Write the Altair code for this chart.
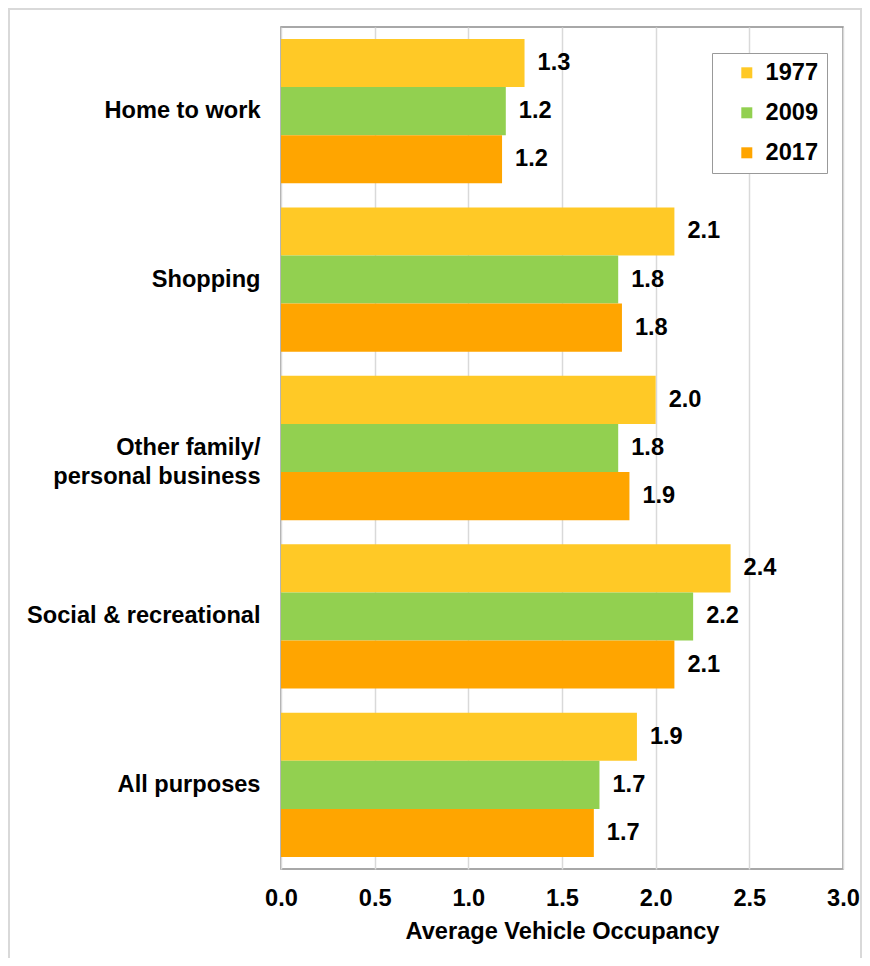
import altair as alt
import pandas as pd

purposes = [
    "Home to work",
    "Shopping",
    "Other family/personal business",
    "Social & recreational",
    "All purposes",
]
years = ["1977", "2009", "2017"]
v1977 = [1.30, 2.10, 2.00, 2.40, 1.90]
v2009 = [1.20, 1.80, 1.80, 2.20, 1.70]
v2017 = [1.18, 1.82, 1.86, 2.10, 1.67]
labels1977 = ["1.3", "2.1", "2.0", "2.4", "1.9"]
labels2009 = ["1.2", "1.8", "1.8", "2.2", "1.7"]
labels2017 = ["1.2", "1.8", "1.9", "2.1", "1.7"]
colors = ["#FFC926", "#92D050", "#FFA500"]
x_ticks = [0.0, 0.5, 1.0, 1.5, 2.0, 2.5, 3.0]

rows = []
for yr, vals, labs in zip(years, [v1977, v2009, v2017], [labels1977, labels2009, labels2017]):
    for p, v, l in zip(purposes, vals, labs):
        rows.append({"purpose": p, "year": yr, "value": v, "label": l})
df = pd.DataFrame(rows)

FONT = "Liberation Sans"
FS = 23.6
W, H = 562, 842

y_enc = alt.Y(
    "purpose:N",
    sort=purposes,
    scale=alt.Scale(paddingInner=0.143, paddingOuter=0.071),
    axis=alt.Axis(
        title=None,
        ticks=False,
        domain=False,
        labelPadding=21,
        labelFontSize=FS,
        labelFontWeight="bold",
        labelColor="#000000",
        labelLimit=400,
        labelLineHeight=29,
        labelExpr="datum.value == 'Other family/personal business' ? ['Other family/', 'personal business'] : datum.label",
    ),
)
yoff = alt.YOffset("year:N", sort=years, scale=alt.Scale(paddingInner=0, paddingOuter=0))
x_enc = alt.X(
    "value:Q",
    scale=alt.Scale(domain=[0, 3], nice=False, zero=True),
    axis=alt.Axis(
        values=x_ticks,
        format=".1f",
        title="Average Vehicle Occupancy",
        titleFontSize=FS,
        titleFontWeight="bold",
        titleColor="#000000",
        titlePadding=10,
        labelFontSize=FS,
        labelFontWeight="bold",
        labelColor="#000000",
        labelPadding=17,
        labelFlush=False,
        labelOverlap=False,
        ticks=False,
        domain=False,
        grid=True,
        gridColor="#d9d9d9",
        gridWidth=1.5,
    ),
)

base = alt.Chart(df)

bars = base.mark_bar().encode(
    y=y_enc,
    yOffset=yoff,
    x=x_enc,
    color=alt.Color(
        "year:N",
        sort=years,
        scale=alt.Scale(domain=years, range=colors),
        legend=alt.Legend(
            title=None,
            orient="none",
            legendX=431,
            legendY=26,
            direction="vertical",
            symbolType="square",
            symbolSize=121,
            symbolStrokeWidth=0,
            symbolOffset=15,
            labelOffset=7,
            labelFontSize=FS,
            labelFontWeight="bold",
            labelColor="#000000",
            labelExpr="datum.label + '\u00a0'",
            rowPadding=15,
            padding=8,
            strokeColor="#999999",
            fillColor="#ffffff",
        ),
    ),
)

text = base.mark_text(
    align="left", baseline="middle", dx=13, fontSize=FS, fontWeight="bold", color="#000000"
).encode(
    y=alt.Y("purpose:N", sort=purposes),
    yOffset=alt.YOffset("year:N", sort=years),
    x=alt.X("value:Q"),
    text="label:N",
)

frame = alt.Chart(pd.DataFrame({"k": [0]})).mark_rect(
    fill="transparent", stroke="#d9d9d9", strokeWidth=2
).encode(
    x=alt.value(-272), x2=alt.value(W + 18), y=alt.value(-18), y2=alt.value(H + 120)
)

chart = (
    alt.layer(frame, bars, text)
    .properties(
        width=W,
        height=H,
        autosize=alt.AutoSizeParams(type="none"),
        padding={"left": 273, "top": 19, "right": 19, "bottom": 89},
        background="#ffffff",
    )
    .configure(font=FONT)
    .configure_view(stroke="#8c8c8c", strokeWidth=1.5)
)

chart.save("out.html", embed_options={"renderer": "svg", "actions": False})
